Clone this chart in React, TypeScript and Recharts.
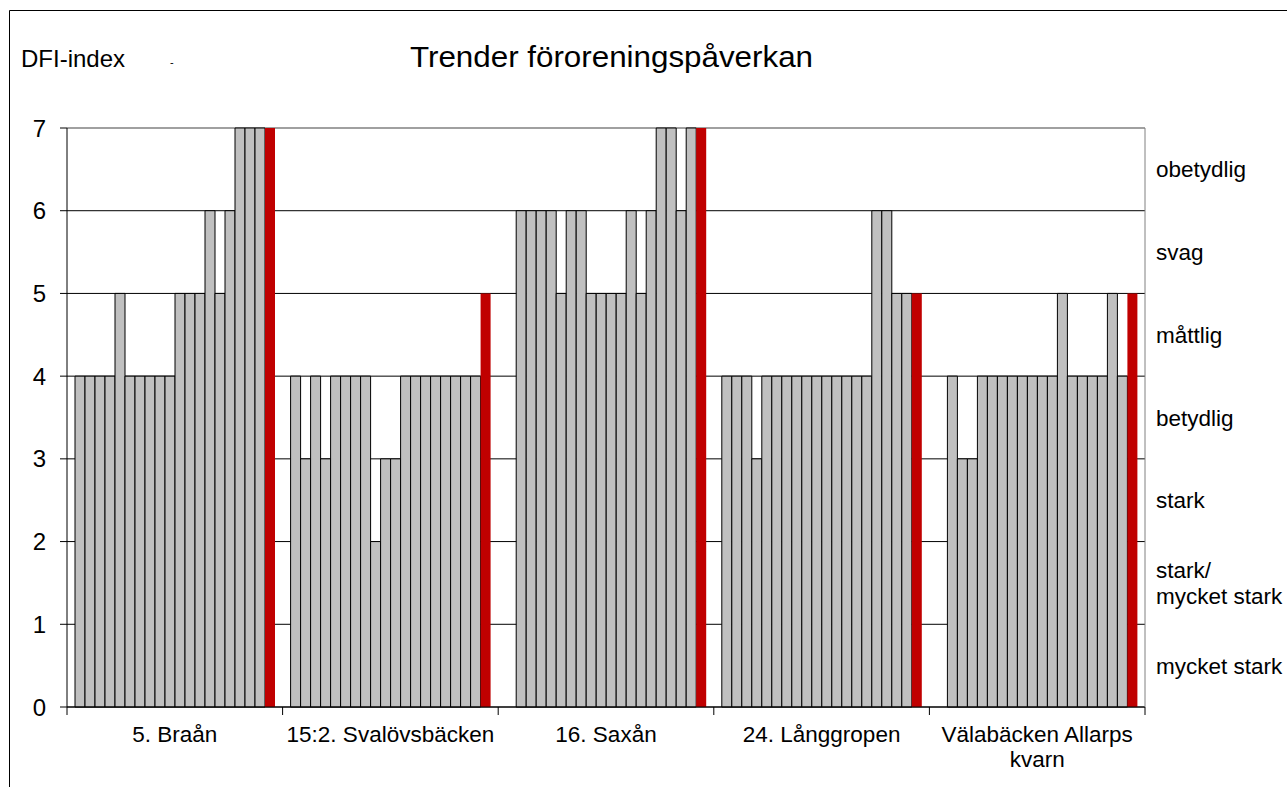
import { Bar, BarChart, CartesianGrid, XAxis, YAxis } from "recharts";

const stations = [
  "5. Braån",
  "15:2. Svalövsbäcken",
  "16. Saxån",
  "24. Långgropen",
  "Välabäcken Allarps kvarn",
];

// DFI-index per sampling year, oldest first. The last year is drawn red.
const braan = [4, 4, 4, 4, 5, 4, 4, 4, 4, 4, 5, 5, 5, 6, 5, 6, 7, 7, 7, 7];
const svalovsbacken = [4, 3, 4, 3, 4, 4, 4, 4, 2, 3, 3, 4, 4, 4, 4, 4, 4, 4, 4, 5];
const saxan = [null, 6, 6, 6, 6, 5, 6, 6, 5, 5, 5, 5, 6, 5, 6, 7, 7, 6, 7, 7];
const langgropen = [4, 4, 4, 3, 4, 4, 4, 4, 4, 4, 4, 4, 4, 4, 4, 6, 6, 5, 5, 5];
const valabacken = [null, 4, 3, 3, 4, 4, 4, 4, 4, 4, 4, 4, 5, 4, 4, 4, 4, 5, 4, 5];

const stationValues = [braan, svalovsbacken, saxan, langgropen, valabacken];

const yearKeys = [
  "y01", "y02", "y03", "y04", "y05", "y06", "y07", "y08", "y09", "y10",
  "y11", "y12", "y13", "y14", "y15", "y16", "y17", "y18", "y19", "y20",
];

const yTicks = [0, 1, 2, 3, 4, 5, 6, 7];
const classTicks = [0.5, 1.5, 2.5, 3.5, 4.5, 5.5, 6.5];
const classLabels = [
  "mycket stark",
  "stark/\nmycket stark",
  "stark",
  "betydlig",
  "måttlig",
  "svag",
  "obetydlig",
];

const GRAY = "#c0c0c0";
const RED = "#c00000";
const FONT = '"Liberation Sans", Arial, sans-serif';

const rows = stations.map((station, i) => {
  const row: Record<string, string | number | null> = { station };
  stationValues[i].forEach((v, j) => {
    row[yearKeys[j]] = v;
  });
  return row;
});

function wrapLabel(label: string): string[] {
  if (label.length <= 20) return [label];
  const cut = label.lastIndexOf(" ");
  return [label.slice(0, cut), label.slice(cut + 1)];
}

function StationTick(props: any) {
  const { x, y, payload, index, visibleTicksCount, width } = props;
  const half = payload?.offset ?? width / visibleTicksCount / 2;
  const lines = wrapLabel(String(payload.value));
  return (
    <g>
      <line x1={x - half} x2={x - half} y1={y} y2={y + 8} stroke="#000" />
      {index === visibleTicksCount - 1 && (
        <line x1={x + half} x2={x + half} y1={y} y2={y + 8} stroke="#000" />
      )}
      <text x={x} y={y + 35} textAnchor="middle" fontSize={22.5} fill="#000">
        {lines.map((l, i) => (
          <tspan key={i} x={x} dy={i === 0 ? 0 : 25}>
            {l}
          </tspan>
        ))}
      </text>
    </g>
  );
}

function ClassTick(props: any) {
  const { x, y, payload } = props;
  const lines = classLabels[Math.floor(payload.value)].split("\n");
  const lh = 26;
  const first = 8 - ((lines.length - 1) * lh) / 2;
  return (
    <text x={x + 11} y={y} fontSize={22.5} fill="#000">
      {lines.map((l, i) => (
        <tspan key={i} x={x + 11} dy={i === 0 ? first : lh}>
          {l}
        </tspan>
      ))}
    </text>
  );
}

function GridLine(p: any) {
  const top = p.y1 <= p.y + 0.5;
  return (
    <line
      key={`h-${p.index}`}
      x1={p.x1}
      x2={p.x2}
      y1={p.y1}
      y2={p.y2}
      stroke={top ? "#808080" : "#000"}
      strokeWidth={top ? 1.5 : 1}
    />
  );
}

export default function App() {
  return (
    <div
      style={{
        position: "fixed",
        left: 0,
        top: 0,
        width: 1287,
        height: 787,
        overflow: "hidden",
        background: "#fff",
        fontFamily: FONT,
      }}
    >
      <BarChart
        width={1287}
        height={787}
        data={rows}
        margin={{ top: 128, right: 0, bottom: 0, left: 0 }}
        barSize={10}
        barGap={0}
      >
        <CartesianGrid yAxisId="left" vertical={false} horizontal={GridLine} />
        <XAxis
          dataKey="station"
          height={80}
          interval={0}
          tickSize={0}
          tickMargin={0}
          tickLine={false}
          axisLine={{ stroke: "#000" }}
          tick={StationTick}
        />
        <YAxis
          yAxisId="left"
          type="number"
          domain={[0, 7]}
          ticks={yTicks}
          interval={0}
          width={67}
          tickSize={7}
          tickMargin={14}
          axisLine={{ stroke: "#000" }}
          tickLine={{ stroke: "#000" }}
          tick={{ fontSize: 24, fill: "#000" }}
        />
        <YAxis
          yAxisId="right"
          orientation="right"
          type="number"
          domain={[0, 7]}
          allowDataOverflow
          ticks={classTicks}
          interval={0}
          width={142}
          tickSize={0}
          tickMargin={0}
          tickLine={false}
          axisLine={{ stroke: "#808080" }}
          tick={ClassTick}
        />
        {yearKeys.map((key, j) => {
          const last = j === yearKeys.length - 1;
          return (
            <Bar
              key={key}
              dataKey={key}
              yAxisId="left"
              fill={last ? RED : GRAY}
              stroke={last ? "none" : "#000"}
              strokeWidth={1}
              isAnimationActive={false}
            />
          );
        })}
      </BarChart>
      <svg
        width={1287}
        height={787}
        style={{ position: "absolute", left: 0, top: 0, pointerEvents: "none" }}
      >
        <line x1={9.5} y1={10.5} x2={1287} y2={10.5} stroke="#000" />
        <line x1={9.5} y1={10.5} x2={9.5} y2={787} stroke="#000" />
        <text x={21} y={67} fontSize={24} fill="#000">
          DFI-index
        </text>
        <text x={170} y={66} fontSize={11} fill="#000">
          -
        </text>
        <text
          x={410}
          y={67}
          fontSize={29}
          fill="#000"
          textLength={403}
          lengthAdjust="spacingAndGlyphs"
        >
          Trender föroreningspåverkan
        </text>
      </svg>
    </div>
  );
}
